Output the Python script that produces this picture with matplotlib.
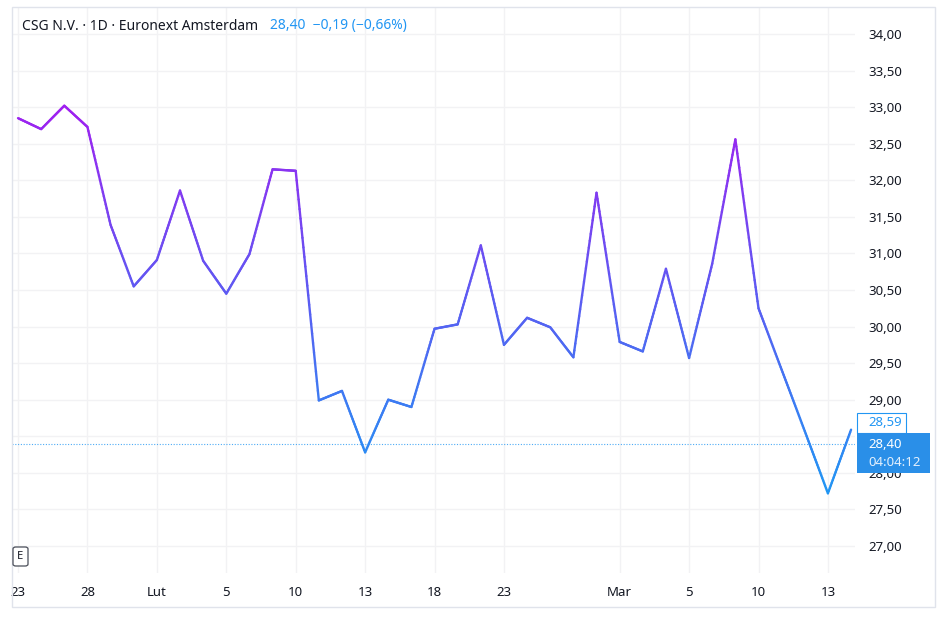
import numpy as np
import matplotlib
matplotlib.use('Agg')
import matplotlib.pyplot as plt
from matplotlib.collections import LineCollection
from matplotlib.colors import LinearSegmentedColormap
from matplotlib.patches import Rectangle, FancyBboxPatch

# daily closes, 23 Jan .. 16 Mar (trading days only)
closes = [32.85, 32.70, 33.02, 32.73, 31.39, 30.55, 30.91, 31.86, 30.90, 30.45,
          30.99, 32.15, 32.13, 28.99, 29.12, 28.28, 29.00, 28.90, 29.97, 30.03,
          31.11, 29.75, 30.12, 29.99, 29.58, 31.83, 29.79, 29.66, 30.79, 29.57,
          30.86, 32.56, 30.25, 29.41, 28.57, 27.72, 28.59]
tick_idx = [0, 3, 6, 9, 12, 15, 18, 21, 26, 29, 32, 35]
tick_labels = ['23', '28', 'Lut', '5', '10', '13', '18', '23', 'Mar', '5', '10', '13']
month_labels = ['Lut', 'Mar']
price_ticks = [27.0, 27.5, 28.0, 28.5, 29.0, 29.5, 30.0, 30.5, 31.0, 31.5,
               32.0, 32.5, 33.0, 33.5, 34.0]
last_close = 28.59
cur_price = 28.40
countdown = '04:04:12'
title = 'CSG N.V. · 1D · Euronext Amsterdam'
quote = '28,40  −0,19 (−0,66%)'

TXT = '#131722'
BLUE = '#2196F3'
W, H = 948, 627
plt.rcParams['font.family'] = ['Noto Sans', 'DejaVu Sans']


def box(x0, y0, x1, y1):
    # pixel box (top-left origin) -> figure fraction rect
    return [x0 / W, 1 - y1 / H, (x1 - x0) / W, (y1 - y0) / H]


def fmt(v):
    return f'{v:.2f}'.replace('.', ',')


fig = plt.figure(figsize=(W / 100, H / 100), dpi=100)
fig.patches.append(Rectangle((12 / W, 1 - 607 / H), 923 / W, 600 / H, transform=fig.transFigure,
                             fill=False, edgecolor='#e0e3eb', lw=1))
ax = fig.add_axes(box(12, 7, 855, 573))

n = len(closes)
x = np.arange(n)
y = np.array(closes)
# subdivide each segment so the colour can follow the price level
xd = np.concatenate([np.linspace(i, i + 1, 25)[:-1] for i in range(n - 1)] + [[n - 1]])
yd = np.interp(xd, x, y)
pts = np.column_stack([xd, yd])
segs = np.stack([pts[:-1], pts[1:]], axis=1)
ymid = (yd[:-1] + yd[1:]) / 2
cmap = LinearSegmentedColormap.from_list('tv', ['#2196F3', '#5b5cf2', '#a020f0'])
norm = plt.Normalize(y.min(), y.max())
lc = LineCollection(segs, colors=cmap(norm(ymid)), linewidths=1.7, capstyle='round', joinstyle='round', zorder=3)
ax.add_collection(lc)

ax.axhline(cur_price, color=BLUE, lw=0.8, ls=(0, (1, 1.5)), alpha=0.8, zorder=2)

ax.set_xlim(-0.26, 36.17)
ax.set_ylim(26.63, 34.37)
ax.set_xticks(tick_idx, tick_labels)
# 28,50 sits fully under the last-price label, so it is left blank
ax.set_yticks(price_ticks, ['' if v == 28.5 else fmt(v) for v in price_ticks])
ax.yaxis.tick_right()
ax.tick_params(axis='y', length=0, pad=9.5, labelsize=9.5, labelcolor=TXT)
ax.tick_params(axis='x', length=0, pad=9, labelsize=9.5, labelcolor=TXT)
for lab in ax.get_xticklabels():
    if lab.get_text() in month_labels:
        lab.set_fontweight('semibold')
ax.grid(True, color='#f2f2f4', lw=1)
ax.set_axisbelow(True)
for s in ax.spines.values():
    s.set_visible(False)

# title row
fig.text(22 / W, 1 - 26 / H, title, color=TXT, fontsize=10, va='center', ha='left')
fig.text(270 / W, 1 - 26 / H, quote, color=BLUE, fontsize=10, va='center', ha='left')

# price labels on the scale
fig.patches.append(FancyBboxPatch((857 / W, 1 - 433 / H), 49 / W, 20 / H, transform=fig.transFigure,
                                  boxstyle='square,pad=0', facecolor='white', edgecolor=BLUE, lw=0.8, zorder=5))
fig.text(868 / W, 1 - 423 / H, fmt(last_close), color=BLUE, fontsize=9.5,
         va='center', ha='left', zorder=6)
fig.patches.append(FancyBboxPatch((857 / W, 1 - 473 / H), 73 / W, 40 / H, transform=fig.transFigure,
                                  boxstyle='square,pad=0', facecolor='#2a8fe8', edgecolor='none', zorder=5))
fig.text(868 / W, 1 - 444 / H, fmt(cur_price), color='white', fontsize=9.5,
         va='center', ha='left', zorder=6)
fig.text(868 / W, 1 - 462 / H, countdown, color='#e3f0fd', fontsize=9.5, va='center', ha='left', zorder=6)

# small "E" marker bottom-left
fig.patches.append(FancyBboxPatch((13 / W, 1 - 566 / H), 15 / W, 19 / H, transform=fig.transFigure,
                                  boxstyle='round,pad=0,rounding_size=0.003', facecolor='white',
                                  edgecolor='#4a4e59', lw=0.9, zorder=5))
fig.text(20.5 / W, 1 - 556.5 / H, 'E', color=TXT, fontsize=8, va='center', ha='center', zorder=6)

fig.savefig('out.png', dpi=100)
